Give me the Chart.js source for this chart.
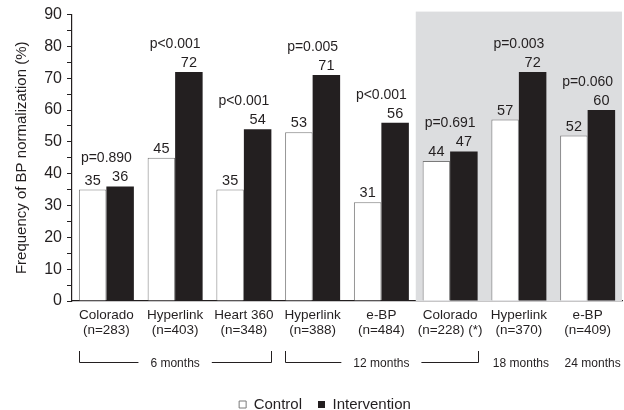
<!DOCTYPE html>
<html lang="en">
<head>
    <meta charset="UTF-8">
    <title>BP normalization</title>
    <script src="https://cdn.jsdelivr.net/npm/chart.js@4.4.1/dist/chart.umd.min.js"></script>
    <style>
        html, body { margin: 0; padding: 0; background: #fff; }
        #wrap { width: 624px; height: 410px; }
    </style>
</head>
<body>
    <div id="wrap"><canvas id="bpChart"></canvas></div>

    <script>
        // data
        const categories = [
            ['Colorado', '(n=283)'], ['Hyperlink', '(n=403)'], ['Heart 360', '(n=348)'],
            ['Hyperlink', '(n=388)'], ['e-BP', '(n=484)'], ['Colorado', '(n=228) (*)'],
            ['Hyperlink', '(n=370)'], ['e-BP', '(n=409)']
        ];
        const controlValues = [35, 45, 35, 53, 31, 44, 57, 52];
        const interventionValues = [36, 72, 54, 71, 56, 47, 72, 60];
        const pValues = ['p=0.890', 'p<0.001', 'p<0.001', 'p=0.005', 'p<0.001', 'p=0.691', 'p=0.003', 'p=0.060'];
        const yTicks = [0, 10, 20, 30, 40, 50, 60, 70, 80, 90];
        // follow-up periods: [first group, last group, label]
        const periods = [[0, 2, '6 months'], [3, 5, '12 months'], [6, 6, '18 months'], [7, 7, '24 months']];
        const shadedFrom = 5;

        const FONT = '"Liberation Sans", Arial, Helvetica, sans-serif';
        const INK = '#231f20';

        const annotations = {
            id: 'annotations',
            afterLayout(chart) {
                // legend sits a little right of centre in the original
                chart.legend.left += 14;
                chart.legend.right += 14;
            },
            beforeDatasetsDraw(chart) {
                const { ctx, chartArea, scales: { x } } = chart;
                const left = (x.getPixelForValue(shadedFrom - 1) + x.getPixelForValue(shadedFrom)) / 2;
                ctx.save();
                ctx.fillStyle = '#dcdddf';
                ctx.fillRect(left, chartArea.top - 3, chartArea.right - left, chartArea.bottom - chartArea.top + 3);
                ctx.restore();
            },
            afterDatasetsDraw(chart) {
                const { ctx } = chart;
                const ctrl = chart.getDatasetMeta(0).data;
                const intv = chart.getDatasetMeta(1).data;
                ctx.save();
                ctx.fillStyle = INK;
                ctx.textAlign = 'center';
                ctx.textBaseline = 'alphabetic';
                ctx.font = '14.5px ' + FONT;
                [ctrl, intv].forEach((bars, d) => {
                    const vals = d === 0 ? controlValues : interventionValues;
                    bars.forEach((bar, i) => ctx.fillText(vals[i], bar.x, bar.y - 5));
                });
                ctx.font = '14px ' + FONT;
                pValues.forEach((p, i) => {
                    const top = Math.min(ctrl[i].y, intv[i].y);
                    const cx = (ctrl[i].x + intv[i].x) / 2;
                    ctx.fillText(p, cx, top - 24);
                });

                // period brackets under the axis
                ctx.font = '12px ' + FONT;
                ctx.textBaseline = 'middle';
                ctx.strokeStyle = INK;
                ctx.lineWidth = 1;
                const yLine = 362.5, yEnd = 351;
                periods.forEach(([a, b, label]) => {
                    const x0 = ctrl[a].x - ctrl[a].width / 2;
                    const x1 = intv[b].x + intv[b].width / 2;
                    const cx = (x0 + x1) / 2;
                    if (a === b) {
                        ctx.fillText(label, cx + (a === 7 ? 5 : 2), yLine + 1);
                        return;
                    }
                    const w = ctx.measureText(label).width;
                    const gap = 12;
                    ctx.beginPath();
                    ctx.moveTo(Math.round(x0) + 0.5, yEnd);
                    ctx.lineTo(Math.round(x0) + 0.5, yLine);
                    ctx.lineTo(cx - w / 2 - gap, yLine);
                    ctx.moveTo(cx + w / 2 + gap, yLine);
                    ctx.lineTo(Math.round(x1) + 0.5, yLine);
                    ctx.lineTo(Math.round(x1) + 0.5, yEnd);
                    ctx.stroke();
                    ctx.fillText(label, cx, yLine + 1);
                });
                ctx.restore();
            }
        };

        const ctx = document.getElementById('bpChart').getContext('2d');
        const chart = new Chart(ctx, {
            type: 'bar',
            data: {
                labels: categories,
                datasets: [{
                    label: 'Control',
                    data: controlValues,
                    backgroundColor: '#ffffff',
                    borderColor: '#7a7a7a',
                    borderWidth: 1,
                    borderSkipped: 'bottom'
                }, {
                    label: 'Intervention',
                    data: interventionValues,
                    backgroundColor: INK,
                    borderColor: INK,
                    borderWidth: 0
                }]
            },
            options: {
                responsive: true,
                maintainAspectRatio: false,
                animation: false,
                datasets: { bar: { categoryPercentage: 0.8, barPercentage: 1.0 } },
                layout: { padding: { top: 14, right: 2, left: 0, bottom: -12 } },
                plugins: {
                    tooltip: { enabled: false },
                    legend: {
                        position: 'bottom',
                        labels: {
                            color: INK,
                            font: { family: FONT, size: 15 },
                            boxWidth: 7,
                            boxHeight: 7,
                            padding: 16
                        }
                    }
                },
                scales: {
                    x: {
                        grid: { display: false, drawTicks: false, tickLength: 0 },
                        border: { display: true, color: INK, width: 1.2 },
                        ticks: { color: INK, font: { family: FONT, size: 13.5, lineHeight: 1.08 }, padding: 7, maxRotation: 0, autoSkip: false },
                        afterFit(scale) { scale.height = 80; }
                    },
                    y: {
                        min: 0,
                        max: 90,
                        afterBuildTicks(scale) {
                            const t = [];
                            yTicks.forEach(v => { t.push({ value: v }); if (v < 90) t.push({ value: v + 5 }); });
                            scale.ticks = t;
                        },
                        ticks: {
                            color: INK,
                            font: { family: FONT, size: 16 },
                            padding: 5,
                            autoSkip: false,
                            callback: v => (yTicks.includes(v) ? v : '')
                        },
                        grid: { drawOnChartArea: false, color: INK, tickLength: 5, tickWidth: 1 },
                        border: { display: true, color: INK, width: 1.2 },
                        title: {
                            display: true,
                            text: 'Frequency of BP normalization (%)',
                            color: INK,
                            font: { family: FONT, size: 15 },
                            padding: { top: 13, bottom: 0 }
                        },
                        afterFit(scale) { scale.width = 72; }
                    }
                }
            },
            plugins: [annotations]
        });
    </script>
</body>
</html>
